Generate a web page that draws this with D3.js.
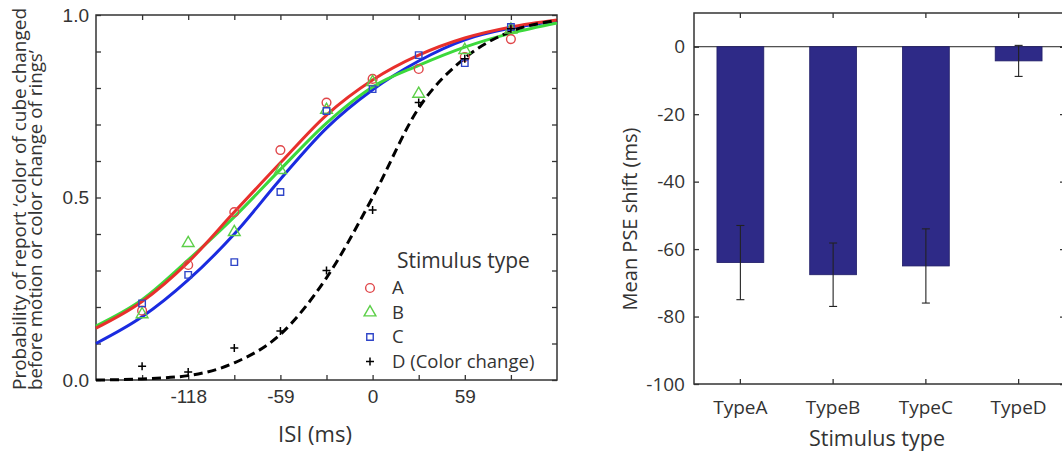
<html>
<head>
<meta charset="utf-8">
<script src="https://d3js.org/d3.v7.min.js"></script>
<style>
  body { margin: 0; background: #fff; }
  text { font-family: "Open Sans", sans-serif; fill: #333; }
  .num text { font-family: "Liberation Sans", Arial, sans-serif; }
  .domain { display: none; }
  .tick line { stroke: #333; stroke-width: 1.3; }
</style>
</head>
<body>
<svg id="mainSVG" width="1062" height="454"></svg>
<script>
// ---- left panel data (psychometric curves) ----
const isiTicks = [-147.5, -118, -88.5, -59, -29.5, 0, 29.5, 59, 88.5];
const isiLabels = [-118, -59, 0, 59];
const probTicks = [0, 0.1, 0.2, 0.3, 0.4, 0.5, 0.6, 0.7, 0.8, 0.9, 1.0];

const pointISI = [-147.5, -118, -88.5, -59, -29.5, 0, 29.5, 59, 88.5];
const ptsA = [0.19, 0.315, 0.46, 0.63, 0.76, 0.825, 0.852, 0.885, 0.934];
const ptsB = [0.18, 0.375, 0.405, 0.575, 0.74, 0.816, 0.784, 0.904, 0.96];
const ptsC = [0.21, 0.288, 0.323, 0.515, 0.737, 0.797, 0.89, 0.868, 0.967];
const ptsD = [0.038, 0.022, 0.088, 0.134, 0.30, 0.466, 0.76, 0.88, 0.962];

// fitted curves at every tick
const fitISI = [-177, -147.5, -118, -88.5, -59, -29.5, 0, 29.5, 59, 88.5, 118];
const fitA = [0.142, 0.215, 0.323, 0.46, 0.595, 0.726, 0.822, 0.89, 0.937, 0.967, 0.986];
const fitB = [0.148, 0.22, 0.329, 0.447, 0.577, 0.704, 0.803, 0.862, 0.912, 0.95, 0.978];
const fitC = [0.10, 0.173, 0.274, 0.40, 0.55, 0.69, 0.795, 0.874, 0.932, 0.964, 0.983];
const fitD = [0.0, 0.003, 0.012, 0.047, 0.125, 0.28, 0.50, 0.745, 0.882, 0.955, 0.985];

const legendNames = ["A", "B", "C", "D (Color change)"];

// ---- right panel data (PSE shift) ----
const types = ["TypeA", "TypeB", "TypeC", "TypeD"];
const pseMean = [-64, -67.6, -65, -4.2];
const pseErr = [11, 9.4, 11, 4.6];
const pseTicks = [0, -20, -40, -60, -80, -100];

const svg = d3.select("#mainSVG");

// ================= LEFT PANEL =================
const x = d3.scaleLinear().domain([-177, 118]).range([96, 557]);
const y = d3.scaleLinear().domain([0, 1]).range([380, 15]);

const left = svg.append("g");

// bottom axis
left.append("g").attr("class", "num")
  .attr("transform", `translate(0,${y(0)})`)
  .call(d3.axisBottom(x).tickValues(isiTicks).tickSizeInner(-5).tickPadding(10)
    .tickFormat(d => isiLabels.includes(d) ? String(d) : ""))
  .selectAll("text").style("font-size", "19px").attr("fill", "#333");
// top axis
left.append("g")
  .attr("transform", `translate(0,${y(1)})`)
  .call(d3.axisTop(x).tickValues(isiTicks).tickSizeInner(-5).tickFormat(""));
// left axis
left.append("g").attr("class", "num")
  .attr("transform", `translate(${x(-177)},0)`)
  .call(d3.axisLeft(y).tickValues(probTicks).tickSizeInner(-5).tickPadding(7)
    .tickFormat(d => (d === 0 || d === 0.5 || d === 1) ? d3.format(".1f")(d) : ""))
  .selectAll("text").style("font-size", "19px").attr("fill", "#333");
// right axis
left.append("g")
  .attr("transform", `translate(${x(118)},0)`)
  .call(d3.axisRight(y).tickValues(probTicks).tickSizeInner(-5).tickFormat(""));

// frame
left.append("rect")
  .attr("x", x(-177)).attr("y", y(1))
  .attr("width", x(118) - x(-177)).attr("height", y(0) - y(1))
  .attr("fill", "none").attr("stroke", "#333").attr("stroke-width", 1.5);

const lineGen = d3.line().x(d => x(d[0])).y(d => y(d[1])).curve(d3.curveMonotoneX);

const fits = [
  { vals: fitC, color: "#1a2be0", dash: null },
  { vals: fitB, color: "#3cd93c", dash: null },
  { vals: fitA, color: "#e8302c", dash: null },
  { vals: fitD, color: "#000", dash: "9,5" }
];
fits.forEach(f => {
  left.append("path")
    .datum(fitISI.map((v, i) => [v, f.vals[i]]))
    .attr("d", lineGen)
    .attr("fill", "none")
    .attr("stroke", f.color)
    .attr("stroke-width", 3)
    .attr("stroke-dasharray", f.dash);
});

const redC = "#e0474a", greenC = "#5ccf48", blueC = "#2f45c8";
const symCircle = d3.symbol().type(d3.symbolCircle).size(60);
const symTri = d3.symbol().type(d3.symbolTriangle).size(60);
const symSq = d3.symbol().type(d3.symbolSquare).size(42);
const plusPath = "M-4,0H4M0,-4V4";

function drawPoints(vals, sym, color) {
  left.append("g").selectAll("path")
    .data(pointISI.map((v, i) => [v, vals[i]]))
    .join("path")
    .attr("transform", d => `translate(${x(d[0])},${y(d[1])})`)
    .attr("d", sym)
    .attr("fill", "none")
    .attr("stroke", color)
    .attr("stroke-width", 1.4);
}
drawPoints(ptsA, symCircle, redC);
drawPoints(ptsB, symTri, greenC);
drawPoints(ptsC, symSq, blueC);
left.append("g").selectAll("path")
  .data(pointISI.map((v, i) => [v, ptsD[i]]))
  .join("path")
  .attr("transform", d => `translate(${x(d[0])},${y(d[1])})`)
  .attr("d", plusPath)
  .attr("stroke", "#000").attr("stroke-width", 1.5);

// legend
const leg = left.append("g").attr("transform", "translate(370,0)");
leg.append("text").attr("x", 27).attr("y", 268).style("font-size", "21px").text("Stimulus type");
const legSyms = [symCircle, symTri, symSq, null];
const legCols = [redC, greenC, blueC, "#000"];
legendNames.forEach((n, i) => {
  const yy = 288 + i * 24.5;
  if (legSyms[i]) {
    leg.append("path").attr("transform", `translate(0,${yy})`)
      .attr("d", legSyms[i]).attr("fill", "none")
      .attr("stroke", legCols[i]).attr("stroke-width", 1.4);
  } else {
    leg.append("path").attr("transform", `translate(0,${yy})`)
      .attr("d", plusPath).attr("stroke", "#000").attr("stroke-width", 1.5);
  }
  leg.append("text").attr("x", 22).attr("y", yy + 6).style("font-size", "18.5px").text(n);
});

// axis titles
left.append("text").attr("x", 315).attr("y", 442).attr("text-anchor", "middle")
  .style("font-size", "22px").text("ISI (ms)");
left.append("text").attr("transform", "translate(26,390) rotate(-90)")
  .attr("textLength", 382).attr("lengthAdjust", "spacingAndGlyphs")
  .style("font-size", "18px").text("Probability of report \u2018color of cube changed");
left.append("text").attr("transform", "translate(42,390) rotate(-90)")
  .attr("textLength", 340).attr("lengthAdjust", "spacingAndGlyphs")
  .style("font-size", "18px").text("before motion or color change of rings\u2019");

// ================= RIGHT PANEL =================
const xb = d3.scaleBand().domain(types).range([694, 1065]);
const yb = d3.scaleLinear().domain([-100, 10]).range([384, 13]);
const right = svg.append("g");

right.append("g")
  .attr("transform", `translate(${xb.range()[0]},0)`)
  .call(d3.axisLeft(yb).tickValues(pseTicks).tickSizeInner(-5).tickPadding(9)
    .tickFormat(d => String(d)))
  .selectAll("text").style("font-size", "19px").attr("fill", "#333");
right.append("g")
  .attr("transform", `translate(${xb.range()[1]},0)`)
  .call(d3.axisRight(yb).tickValues(pseTicks).tickSizeInner(-5).tickFormat(""));
right.append("g")
  .attr("transform", `translate(0,${yb(-100)})`)
  .call(d3.axisBottom(xb).tickSizeInner(-5).tickPadding(17))
  .selectAll("text").style("font-size", "19px").attr("fill", "#333");
right.append("g")
  .attr("transform", `translate(0,${yb(10)})`)
  .call(d3.axisTop(xb).tickSizeInner(-5).tickFormat(""));

right.append("rect")
  .attr("x", 694).attr("y", yb(10))
  .attr("width", 1065 - 694).attr("height", yb(-100) - yb(10))
  .attr("fill", "none").attr("stroke", "#333").attr("stroke-width", 1.5);

// zero line
right.append("line")
  .attr("x1", 694).attr("x2", 1065).attr("y1", yb(0)).attr("y2", yb(0))
  .attr("stroke", "#222").attr("stroke-width", 1);

const bw = xb.bandwidth() * 0.505;
right.selectAll("rect.bar")
  .data(types)
  .join("rect").attr("class", "bar")
  .attr("x", d => xb(d) + xb.bandwidth() / 2 - bw / 2)
  .attr("y", yb(0))
  .attr("width", bw)
  .attr("height", (d, i) => yb(pseMean[i]) - yb(0))
  .attr("fill", "#2e2a87")
  .attr("stroke", "#1f1c66").attr("stroke-width", 0.8);

// error bars
const eb = right.append("g").attr("stroke", "#222").attr("stroke-width", 1.1);
types.forEach((t, i) => {
  const cx = xb(t) + xb.bandwidth() / 2;
  const lo = yb(pseMean[i] - pseErr[i]), hi = yb(pseMean[i] + pseErr[i]);
  eb.append("line").attr("x1", cx).attr("x2", cx).attr("y1", lo).attr("y2", hi);
  eb.append("line").attr("x1", cx - 4).attr("x2", cx + 4).attr("y1", lo).attr("y2", lo);
  eb.append("line").attr("x1", cx - 4).attr("x2", cx + 4).attr("y1", hi).attr("y2", hi);
});

right.append("text").attr("x", 877).attr("y", 446).attr("text-anchor", "middle")
  .style("font-size", "21.5px").text("Stimulus type");
right.append("text").attr("transform", "translate(637,219) rotate(-90)")
  .attr("text-anchor", "middle").style("font-size", "20px").text("Mean PSE shift (ms)");
</script>
</body>
</html>
